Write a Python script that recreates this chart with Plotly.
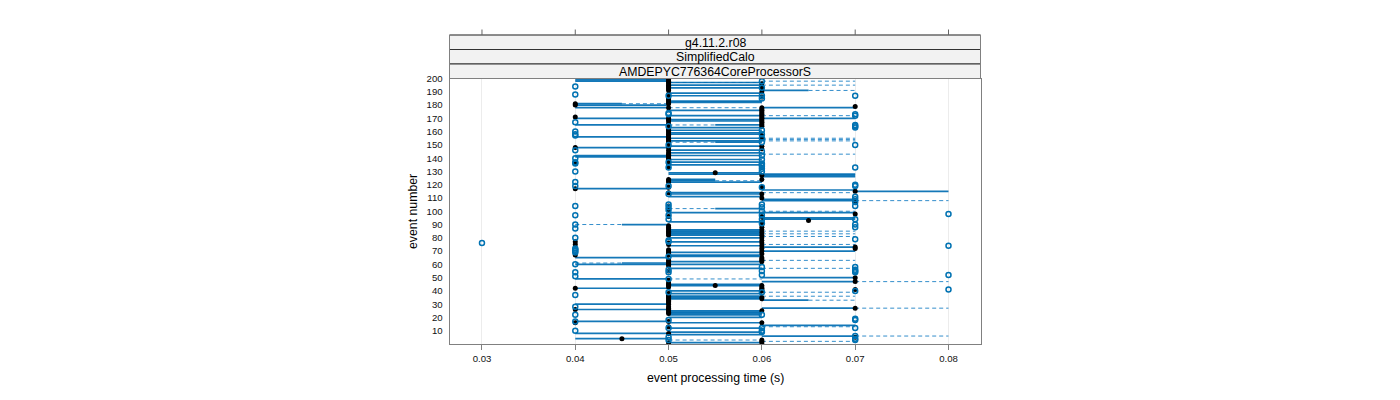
import plotly.graph_objects as go

# box (solid) rows by x span
solid_040_050 = [199,198,180,178,170,165,156,148,142,141,117,65,60,49,42,30,26,17,8,4]
solid_040_045 = [181]
solid_045_050 = [90,61]
solid_050_060 = [197,195,193,189,187,183,182,176,172,169,168,163,161,159,158,155,153,149,146,144,142,139,137,135,
                 129,128,122,114,113,111,99,92,86,85,84,83,82,80,77,74,69,67,66,62,60,57,45,44,40,38,36,35,34,
                 25,24,23,22,20,16,12,9,7,1]
solid_050_055 = [124,123]
solid_055_060 = [165,152,102]
solid_060_070 = [178,170,128,127,126,116,109,108,99,95,94,73,70,50,47,27,14,6]
solid_060_065 = [191,33]
solid_070_080 = [115]

# whisker (dashed) rows by x span
dash_045_050 = [181]
dash_040_045 = [90,61]
dash_050_055 = [165,152,102]
dash_055_060 = [123]
dash_050_060 = [197,178,49,3]
dash_060_070 = [198,195,172,155,154,153,143,114,100,85,83,81,75,63,57,39,36,13,2]
dash_065_070 = [191,33]
dash_070_080 = [108,47,27,6]

# medians
med_040 = [181,180,171,148,136,117,77,75,67,42,26,16]
med_045 = [4]
med_050 = [200,199,198,197,196,195,194,193,192,191,188,187,185,184,183,182,181,178,170,169,168,166,165,
           162,161,160,159,158,157,156,155,154,153,152,151,148,146,144,143,142,141,140,139,138,135,134,133,
           124,123,122,118,114,104,101,96,89,88,87,86,85,84,83,82,76,75,71,70,69,68,67,63,62,61,60,59,
           55,48,46,45,44,43,38,37,36,35,34,33,32,31,30,28,27,26,25,24,23,17,13,8,1]
med_055 = [129,44]
med_060 = [196,193,190,186,178,177,176,175,174,173,172,171,170,169,168,167,166,165,164,157,155,149,147,
           133,127,124,118,113,110,96,92,90,88,86,84,82,80,78,76,74,72,70,68,65,64,63,62,44,43,42,41,40,
           35,34,25,16,3,2,1]
med_065 = [93]
med_070 = [179,115,108,98,73,72,50,47,41,27,5]

# outliers
out_030 = [76]
out_040 = [194,188,167,160,158,157,146,140,137,136,130,122,119,104,97,90,87,80,72,71,70,69,60,54,51,37,28,22,17,10]
out_050 = [187,174,173,164,150,137,133,119,113,105,103,101,97,94,78,77,66,56,54,49,39,18,12,5,3]
out_060 = [198,193,187,185,161,158,155,152,145,142,139,136,135,134,132,130,118,105,103,100,97,94,91,58,55,52,
           39,22,12,10,9]
out_070 = [187,173,172,165,164,163,150,133,120,119,111,109,107,104,94,90,88,79,58,56,55,54,40,19,18,12,6,4,3]
out_080 = [98,74,52,41]

x_ticks = [0.03,0.04,0.05,0.06,0.07,0.08]
x_labels = ["0.03","0.04","0.05","0.06","0.07","0.08"]
y_ticks = [10,20,30,40,50,60,70,80,90,100,110,120,130,140,150,160,170,180,190,200]
strip_labels = ["g4.11.2.r08","SimplifiedCalo","AMDEPYC776364CoreProcessorS"]

BLUE = "rgba(0,108,178,0.92)"
FONT = "Liberation Sans"

def segs(groups):
    xs, ys = [], []
    for x0, x1, rows in groups:
        for r in rows:
            xs += [x0, x1, None]
            ys += [r, r, None]
    return xs, ys

def pts(groups):
    xs, ys = [], []
    for x, rows in groups:
        xs += [x]*len(rows)
        ys += rows
    return xs, ys

fig = go.Figure()
sx, sy = segs([(0.04,0.05,solid_040_050),(0.04,0.045,solid_040_045),(0.045,0.05,solid_045_050),
               (0.05,0.06,solid_050_060),(0.05,0.055,solid_050_055),(0.055,0.06,solid_055_060),
               (0.06,0.07,solid_060_070),(0.06,0.065,solid_060_065),(0.07,0.08,solid_070_080)])
dx, dy = segs([(0.045,0.05,dash_045_050),(0.04,0.045,dash_040_045),(0.05,0.055,dash_050_055),
               (0.055,0.06,dash_055_060),(0.05,0.06,dash_050_060),(0.06,0.07,dash_060_070),
               (0.065,0.07,dash_065_070),(0.07,0.08,dash_070_080)])
fig.add_trace(go.Scatter(x=dx, y=dy, mode="lines", line=dict(color="rgba(0,114,190,0.8)", width=1, dash="4px,3px"), hoverinfo="skip"))
fig.add_trace(go.Scatter(x=sx, y=sy, mode="lines", line=dict(color=BLUE, width=1.7), hoverinfo="skip"))
ox, oy = pts([(0.03,out_030),(0.04,out_040),(0.05,out_050),(0.06,out_060),(0.07,out_070),(0.08,out_080)])
mx, my = pts([(0.04,med_040),(0.045,med_045),(0.05,med_050),(0.055,med_055),(0.06,med_060),(0.065,med_065),(0.07,med_070)])
fig.add_trace(go.Scatter(x=mx, y=my, mode="markers", marker=dict(color="black", size=5, symbol="circle"), hoverinfo="skip"))
fig.add_trace(go.Scatter(x=ox, y=oy, mode="markers",
                         marker=dict(color="rgba(0,0,0,0)", size=5, symbol="circle", line=dict(color="#0072B2", width=1.5)),
                         hoverinfo="skip"))

W, H = 1400, 400
def py(p): return (H - p) / H
L, R, T, B = 449.5, 980.5, 78.5, 344

shapes = []
edges = [(64,78.5),(49.5,64),(35,49.5)]
annos = []
for (t,b), lab in zip(reversed(edges), strip_labels):
    shapes.append(dict(type="rect", xref="paper", yref="paper", x0=L/W, x1=R/W, y0=py(b), y1=py(t),
                       fillcolor="#f2f2f2", line=dict(color="#333333", width=1), layer="below"))
    annos.append(dict(xref="paper", yref="paper", x=(L+R)/2/W, y=py((t+b)/2+0.7), text=lab, showarrow=False,
                      font=dict(family=FONT, size=12.3, color="black"), xanchor="center", yanchor="middle"))
shapes.append(dict(type="rect", xref="paper", yref="paper", x0=L/W, x1=R/W, y0=py(78.5), y1=py(35),
                   line=dict(color="#808080", width=1)))
for v in x_ticks:
    shapes.append(dict(type="line", xref="x", yref="paper", x0=v, x1=v, y0=py(35), y1=py(29.5),
                       line=dict(color="#666666", width=1)))
annos.append(dict(xref="paper", yref="paper", x=715/W, y=py(378), text="event processing time (s)", showarrow=False,
                  font=dict(family=FONT, size=12.3, color="black"), xanchor="center", yanchor="middle"))
annos.append(dict(xref="paper", yref="paper", x=413/W, y=py(212), text="event number", showarrow=False, textangle=-90,
                  font=dict(family=FONT, size=12.3, color="black"), xanchor="center", yanchor="middle"))

fig.update_layout(
    width=W, height=H, margin=dict(l=0,r=0,t=0,b=0), showlegend=False, template="none",
    plot_bgcolor="white", paper_bgcolor="white", shapes=shapes, annotations=annos,
    xaxis=dict(domain=[L/W,R/W], range=[0.02652,0.08343], tickmode="array", tickvals=x_ticks, ticktext=x_labels,
               automargin=False, showgrid=True, gridcolor="#ececec", gridwidth=1, zeroline=False, showline=True, mirror=True,
               linecolor="#808080", linewidth=1, ticks="outside", ticklen=5, tickcolor="#808080",
               tickfont=dict(family=FONT, size=9.6, color="#111111")),
    yaxis=dict(domain=[py(B),py(T)], range=[0.0,200.0], tickmode="array", tickvals=y_ticks, automargin=False,
               showgrid=False, zeroline=False, showline=True, mirror=True, linecolor="#808080", linewidth=1,
               ticks="", ticklabelstandoff=4, tickfont=dict(family=FONT, size=9.6, color="#111111")),
)
fig.write_html("out.html", config=dict(displayModeBar=False),
               post_script="document.body.style.margin='0';document.body.style.overflow='hidden';")
